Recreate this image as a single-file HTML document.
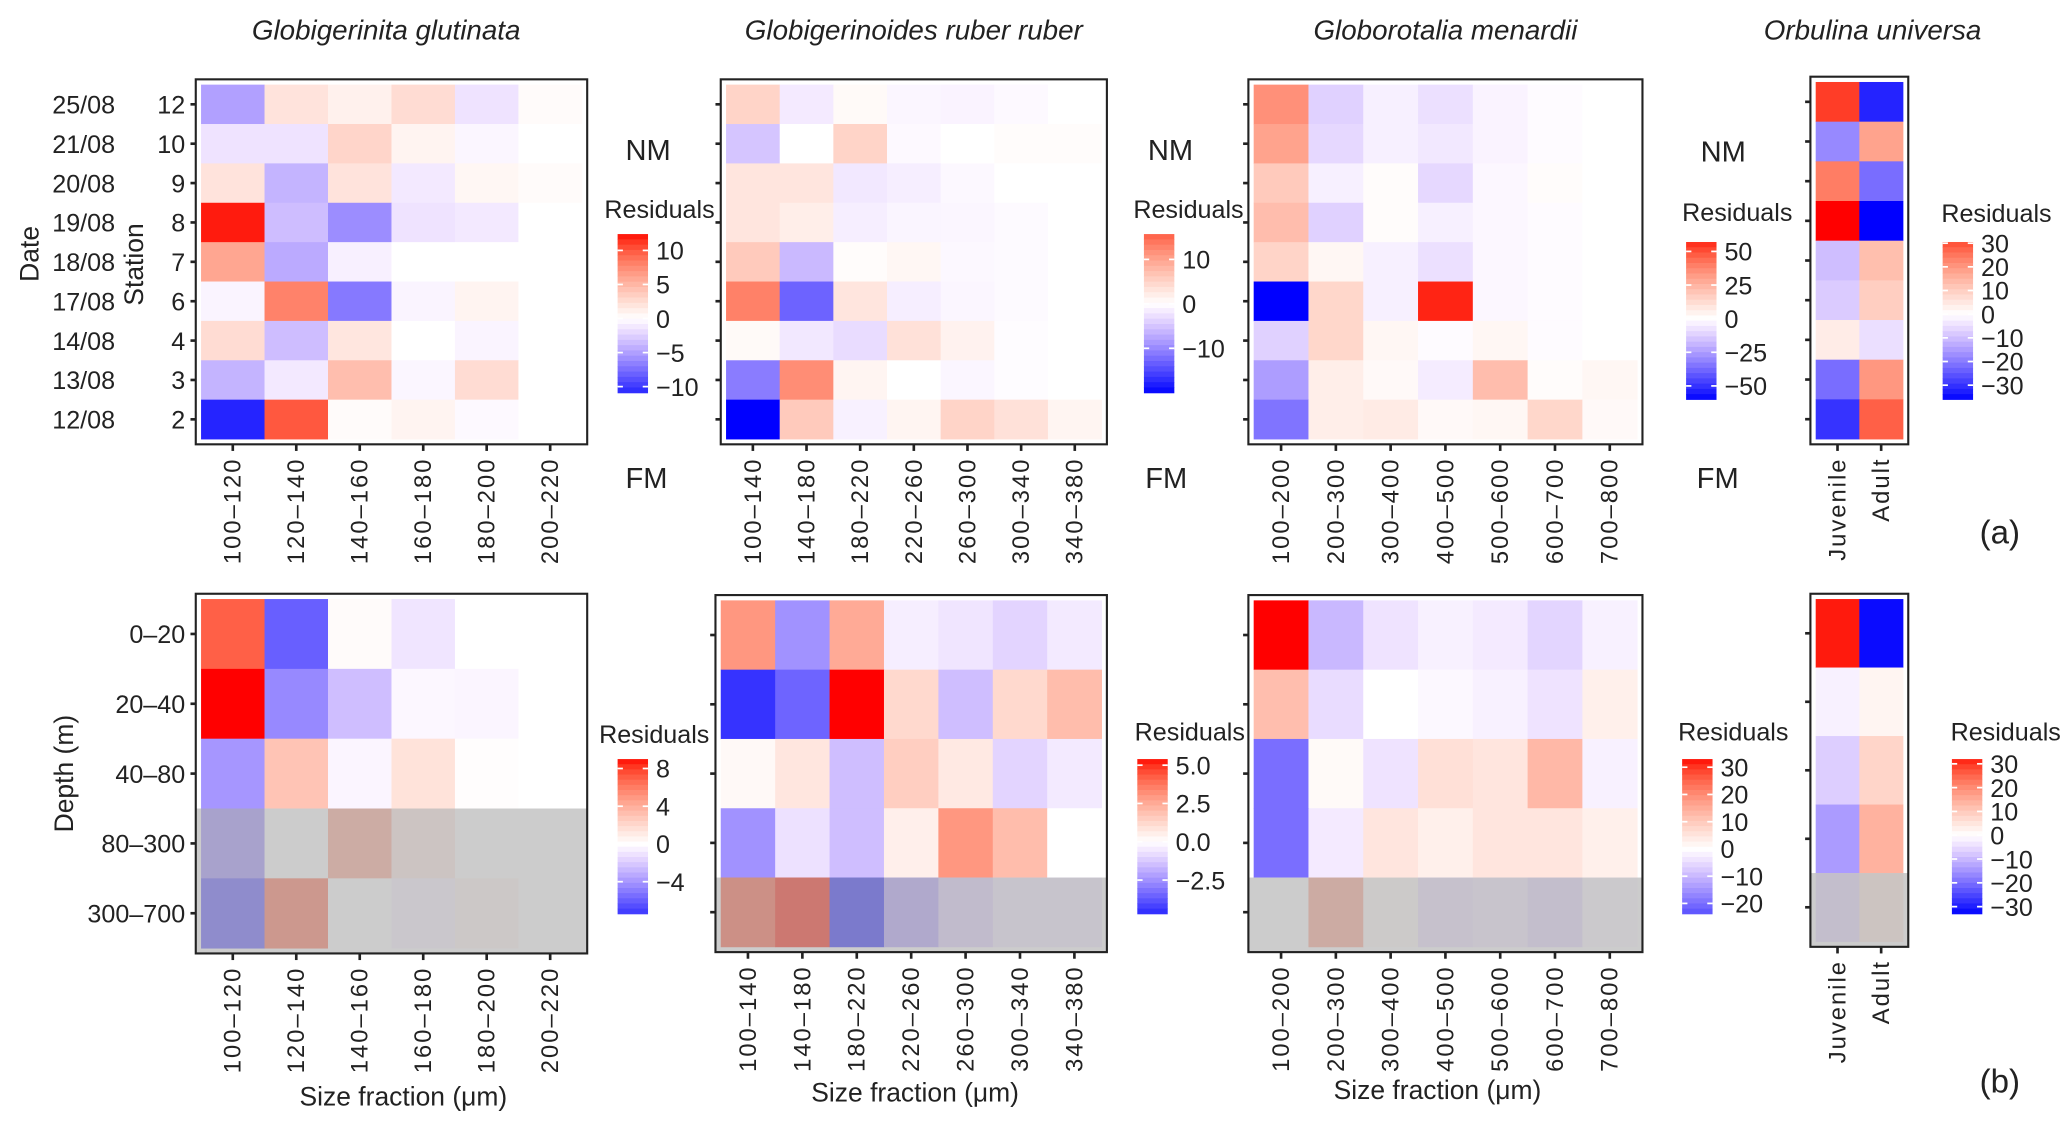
<!DOCTYPE html>
<html><head><meta charset="utf-8"><style>
html,body{margin:0;padding:0;background:#fff}
svg{display:block}
text{font-family:"Liberation Sans",sans-serif;fill:#222}
.xt{font-family:"Liberation Sans",sans-serif;font-size:18px;letter-spacing:1.5px}
</style></head><body>
<svg id="fig" width="2067" height="1128" viewBox="0 0 1563 853" xmlns="http://www.w3.org/2000/svg"></svg>
<script>
// ---- data ----
const sizeGlut = ["100–120","120–140","140–160","160–180","180–200","200–220"];
const sizeRuber = ["100–140","140–180","180–220","220–260","260–300","300–340","340–380"];
const sizeMen = ["100–200","200–300","300–400","400–500","500–600","600–700","700–800"];
const stages = ["Juvenile","Adult"];
const dates = ["25/08","21/08","20/08","19/08","18/08","17/08","14/08","13/08","12/08"];
const stations = ["12","10","9","8","7","6","4","3","2"];
const depths = ["0–20","20–40","40–80","80–300","300–700"];

const glutStation = [[-5,2,1,2.5,-1.5,0.3],[-1.5,-1.5,3,0.8,-0.5,0],[2,-4,2,-1.2,0.6,0.3],[12,-3.5,-6,-1.5,-1.2,0],[6,-4.5,-0.8,0,0,0],[-0.6,8,-7,-0.6,0.8,0],[2.5,-3.5,1.8,0,-0.6,0],[-4,-1.2,4.5,-0.5,2.5,0],[-11,10,0.3,0.8,-0.3,0]];
const ruberStation = [[5,-1.8,0.6,-0.8,-1,-0.5,0],[-5,0,5,-0.5,0,0.4,0.4],[3,3,-2,-1.5,-0.6,0,0],[3,2,-1.5,-0.9,-0.8,-0.4,0],[6,-6,0.4,1,-0.6,-0.4,0],[13,-13,3,-1.5,-0.8,-0.4,0],[0.6,-2,-3,3.5,1.5,-0.3,0],[-11,12,1.2,0,-0.8,-0.3,0],[-20,6,-1.2,1.2,5,3.5,1.2]];
const menStation = [[35,-12,-4,-8,-3,-1,0],[30,-10,-4,-6,-3,-1,0],[18,-4,1,-10,-2,1,0],[22,-12,1,-4,-2,-1,0],[15,3,-4,-8,-2,-1,0],[-60,14,-4,57,-2,-1,0],[-12,14,3,-1,3,-1,0],[-25,6,2,-5,22,1,3],[-35,6,7,2,3,14,2]];
const orbStation = [[32,-32],[-18,18],[24,-22],[36,-36],[-10,13],[-8,10],[4,-5],[-22,20],[-30,28]];

const glutDepth = [[7,-6,0.2,-1,0,0],[9,-4.5,-2.5,-0.3,-0.4,0],[-4,3,-0.4,1.5,0.1,0],[-4,0,4,1,0,0],[-6,6,0,-0.5,0.5,0]];
const ruberDepth = [[3,-2.5,2.5,-0.4,-0.6,-1,-0.5],[-4.5,-3.5,5.4,1.2,-1.5,1.2,2],[0.2,0.8,-1.5,1.5,0.7,-1,-0.5],[-2.5,-0.7,-1.5,0.5,3,2,0],[4,5,-4.5,-2,-1,-0.5,-0.5]];
const menDepth = [[33,-10,-4,-2,-3,-6,-2],[12,-5,0,-1,-2,-4,3],[-20,1,-4,6,5,13,-2],[-20,-3,5,3,5,5,3],[0,15,1,-4,-3,-5,-1]];
const orbDepth = [[32,-32],[-2,2],[-7,8],[-14,14],[-5,4]];

const legTicksA1 = [10,5,0,-5,-10], legTicksA2=[10,0,-10], legTicksA3=[50,25,0,-25,-50], legTicksA4=[30,20,10,0,-10,-20,-30];
const legTicksB1 = [8,4,0,-4], legTicksB2=[5.0,2.5,0.0,-2.5], legTicksB3=[30,20,10,0,-10,-20], legTicksB4=[30,20,10,0,-10,-20,-30];
const legRangeA1=[-10.9,12.4], legRangeA2=[-20,15.7], legRangeA3=[-60,57], legRangeA4=[-36,30.5];
const legRangeB1=[-7.4,9], legRangeB2=[-4.7,5.4], legRangeB3=[-23.8,33], legRangeB4=[-33,32];

// ---- helpers ----
const NS="http://www.w3.org/2000/svg";
const svg=document.getElementById('fig');
function mk(tag,attrs,parent){const e=document.createElementNS(NS,tag);for(const k in attrs)e.setAttribute(k,attrs[k]);(parent||svg).appendChild(e);return e;}
function txt(s,attrs,parent){const e=mk('text',attrs,parent);e.textContent=s;return e;}
function color(v,lim){let t=Math.max(-1,Math.min(1,v/lim));
 if(t>=0){return `rgb(255,${Math.round(255*Math.pow(1-t,0.65))},${Math.round(255*Math.pow(1-t,0.85))})`;}
 t=-t;return `rgb(${Math.round(255*(1-Math.pow(t,1.3)))},${Math.round(255*Math.pow(1-t,0.9))},255)`;}

function panel(name,box,vals,lim,xl,grayFrom){
 const g=mk('g',{});
 
 
 const [x0,x1,y0,y1]=box, nr=vals.length, nc=vals[0].length;
 const ix0=x0+4, iy0=y0+4, cw=(x1-x0-8)/nc, ch=(y1-y0-8)/nr;
 mk('rect',{x:x0,y:y0,width:x1-x0,height:y1-y0,fill:'#fff'},g);
 for(let r=0;r<nr;r++)for(let c=0;c<nc;c++){
  const cell=mk('rect',{x:ix0+c*cw,y:iy0+r*ch,width:cw+0.3,height:ch+0.3,fill:color(vals[r][c],lim)},g);
  
  
 }
 if(grayFrom!=null){const gr=mk('rect',{x:x0,y:iy0+grayFrom*ch,width:x1-x0,height:y1-(iy0+grayFrom*ch),fill:'rgba(170,170,170,0.6)'},g);
  
  }
 mk('rect',{x:x0,y:y0,width:x1-x0,height:y1-y0,fill:'none',stroke:'#222','stroke-width':1.6},g);
 for(let r=0;r<nr;r++){const y=iy0+(r+0.5)*ch;mk('line',{x1:x0-4,x2:x0,y1:y,y2:y,stroke:'#222','stroke-width':2},g);}
 for(let c=0;c<nc;c++){const x=ix0+(c+0.5)*cw;mk('line',{x1:x,x2:x,y1:y1,y2:y1+5,stroke:'#222','stroke-width':2},g);
  const t=txt(xl[c],{class:'xt','text-anchor':'end',transform:`translate(${x+6},${y1+10}) rotate(-90)`},g);
  
  }
 return {ix0,iy0,cw,ch};
}
function legend(name,x,y,top,bot,range,ticks,titleX,titleY){
 const g=mk('g',{});
 
 
 const [vmin,vmax]=range, lim=Math.max(-vmin,vmax), w=23, n=30;
 txt('Residuals',{x:titleX,y:titleY,'font-size':19},g);
 for(let i=0;i<n;i++){const v=vmax-(i+0.5)*(vmax-vmin)/n;mk('rect',{x:x,y:top+i*(bot-top)/n,width:w,height:(bot-top)/n+0.4,fill:color(v,lim)},g);}
 ticks.forEach(v=>{const ty=top+(vmax-v)/(vmax-vmin)*(bot-top);
  mk('line',{x1:x,x2:x+4,y1:ty,y2:ty,stroke:'#fff','stroke-width':1.3},g);mk('line',{x1:x+w-4,x2:x+w,y1:ty,y2:ty,stroke:'#fff','stroke-width':1.3},g);
  let s=(Number.isInteger(v)&&!(ticks.some(k=>!Number.isInteger(k))))?String(v):v.toFixed(1);s=s.replace('-','−');
  txt(s,{x:x+w+6,y:ty+7,'font-size':19},g);});
}

// ---- titles ----
[["Globigerinita glutinata",292],["Globigerinoides ruber ruber",691],["Globorotalia menardii",1093],["Orbulina universa",1416]].forEach(([s,x])=>{
 const t=txt(s,{x:x,y:30,'text-anchor':'middle','font-size':21,'font-style':'italic'});
 
 });

// ---- top row ----
const pA1=panel('heatmap-glutinata-station',[148,444,60,336],glutStation,12.4,sizeGlut,null);
panel('heatmap-ruber-station',[545,837,60,336],ruberStation,20,sizeRuber,null);
panel('heatmap-menardii-station',[944,1242,60,336],menStation,60,sizeMen,null);
panel('heatmap-orbulina-station',[1369,1443,58,336],orbStation,36,stages,null);
for(let r=0;r<dates.length;r++){const y=pA1.iy0+(r+0.5)*pA1.ch+7;
 txt(dates[r],{x:87,y:y,'text-anchor':'end','font-size':19});
 txt(stations[r],{x:140,y:y,'text-anchor':'end','font-size':19});}
txt('Date',{transform:'translate(29,192) rotate(-90)','text-anchor':'middle','font-size':20});
txt('Station',{transform:'translate(108,200) rotate(-90)','text-anchor':'middle','font-size':20});
legend('legend-glutinata-station',467,177,177,297,legRangeA1,legTicksA1,457,165);
legend('legend-ruber-station',865,177,177,297,legRangeA2,legTicksA2,857,165);
legend('legend-menardii-station',1275,183,183,302,legRangeA3,legTicksA3,1272,167);
legend('legend-orbulina-station',1469,183,183,302,legRangeA4,legTicksA4,1468,168);
[[473,121,'NM'],[868,121,'NM'],[1286,122,'NM'],[473,369,'FM'],[866,369,'FM'],[1283,369,'FM']].forEach(([x,y,s])=>txt(s,{x:x,y:y,'font-size':22}));
txt('(a)',{x:1497,y:411,'font-size':25});

// ---- bottom row ----
const pB1=panel('heatmap-glutinata-depth',[148,444,449,721],glutDepth,9,sizeGlut,3);
panel('heatmap-ruber-depth',[541,837,450,720],ruberDepth,5.4,sizeRuber,4);
panel('heatmap-menardii-depth',[944,1242,450,720],menDepth,33,sizeMen,4);
panel('heatmap-orbulina-depth',[1369,1443,449,716],orbDepth,33,stages,4);
for(let r=0;r<depths.length;r++){const y=pB1.iy0+(r+0.5)*pB1.ch+7;
 txt(depths[r],{x:140,y:y,'text-anchor':'end','font-size':19});}
txt('Depth (m)',{transform:'translate(55,585) rotate(-90)','text-anchor':'middle','font-size':20});
legend('legend-glutinata-depth',467,574,574,691,legRangeB1,legTicksB1,453,562);
legend('legend-ruber-depth',860,574,574,691,legRangeB2,legTicksB2,858,560);
legend('legend-menardii-depth',1272,574,574,691,legRangeB3,legTicksB3,1269,560);
legend('legend-orbulina-depth',1476,574,574,691,legRangeB4,legTicksB4,1475,560);
[[305,836],[692,833],[1087,831]].forEach(([x,y])=>{const t=txt('Size fraction (μm)',{x:x,y:y,'text-anchor':'middle','font-size':20});
 
 });
txt('(b)',{x:1497,y:826,'font-size':25});
</script>
</body></html>
